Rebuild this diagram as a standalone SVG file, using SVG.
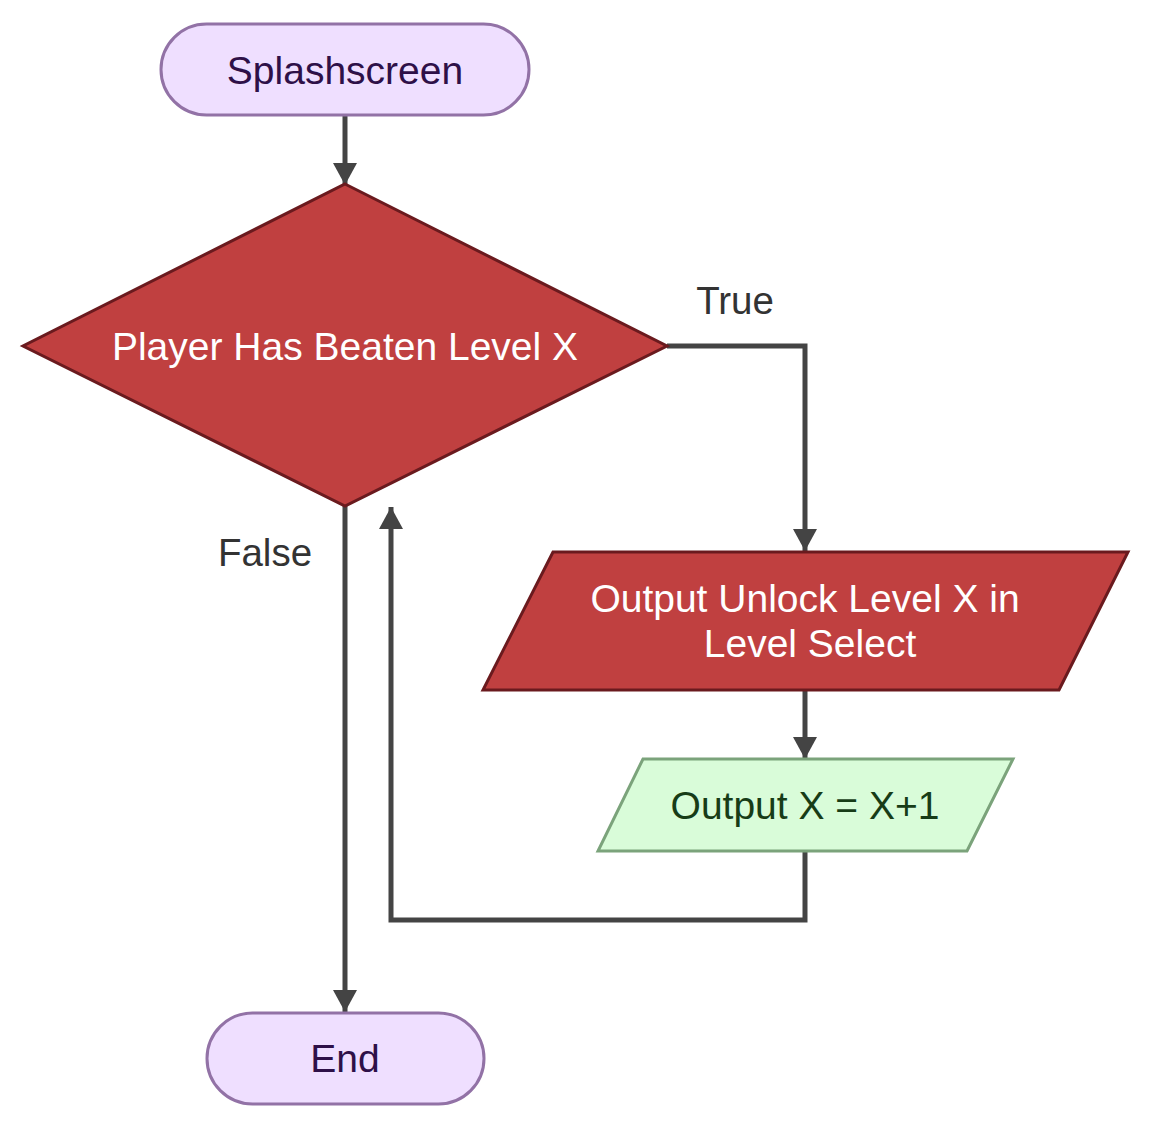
<svg xmlns="http://www.w3.org/2000/svg" width="1151" height="1128" viewBox="0 0 1151 1128">
<style>
text{font-family:"Liberation Sans",Arial,sans-serif;font-size:39px;text-anchor:middle;dominant-baseline:central}
.term{fill:#efdfff;stroke:#9272a6;stroke-width:3}
.termt{fill:#2e1048}
.red{fill:#c04040;stroke:#6a1a1e;stroke-width:3}
.redt{fill:#ffffff}
.green{fill:#d9fcd9;stroke:#7ba37b;stroke-width:3}
.greent{fill:#173c17}
.edge{fill:none;stroke:#444444;stroke-width:5}
.lbl{fill:#333333;font-size:38.5px}
</style>
<defs>
<marker id="arr" markerUnits="userSpaceOnUse" markerWidth="26" markerHeight="24" refX="22" refY="12" orient="auto">
<path d="M0,0 L22,12 L0,24 Z" fill="#444444"/>
</marker>
</defs>
<rect width="1151" height="1128" fill="#ffffff"/>
<g id="connectors">
<path class="edge" d="M345,116 L345,185" marker-end="url(#arr)"/>
<path class="edge" d="M667,346 L805,346 L805,551" marker-end="url(#arr)"/>
<path class="edge" d="M805,691 L805,759" marker-end="url(#arr)"/>
<path class="edge" d="M805,852 L805,920 L391,920 L391,507" marker-end="url(#arr)"/>
<path class="edge" d="M345,506 L345,1012" marker-end="url(#arr)"/>
<text class="lbl" x="735" y="300">True</text>
<text class="lbl" x="265" y="552">False</text>
</g>
<g id="splashscreen">
<rect class="term" x="161" y="24" width="368" height="91" rx="45.5" ry="45.5"/>
<text class="termt" x="345" y="70">Splashscreen</text>
</g>
<g id="decision">
<polygon class="red" points="345,184 667,346 345,506 23,346"/>
<text class="redt" x="345" y="346">Player Has Beaten Level X</text>
</g>
<g id="unlock">
<polygon class="red" points="553,552 1128,552 1059,690 483,690"/>
<text class="redt" x="805" y="598">Output Unlock Level X in</text>
<text class="redt" x="810" y="643">Level Select</text>
</g>
<g id="increment">
<polygon class="green" points="643,759 1013,759 967,851 598,851"/>
<text class="greent" x="805" y="805">Output X = X+1</text>
</g>
<g id="end">
<rect class="term" x="207" y="1013" width="277" height="91" rx="45.5" ry="45.5"/>
<text class="termt" x="345" y="1058">End</text>
</g>
</svg>
